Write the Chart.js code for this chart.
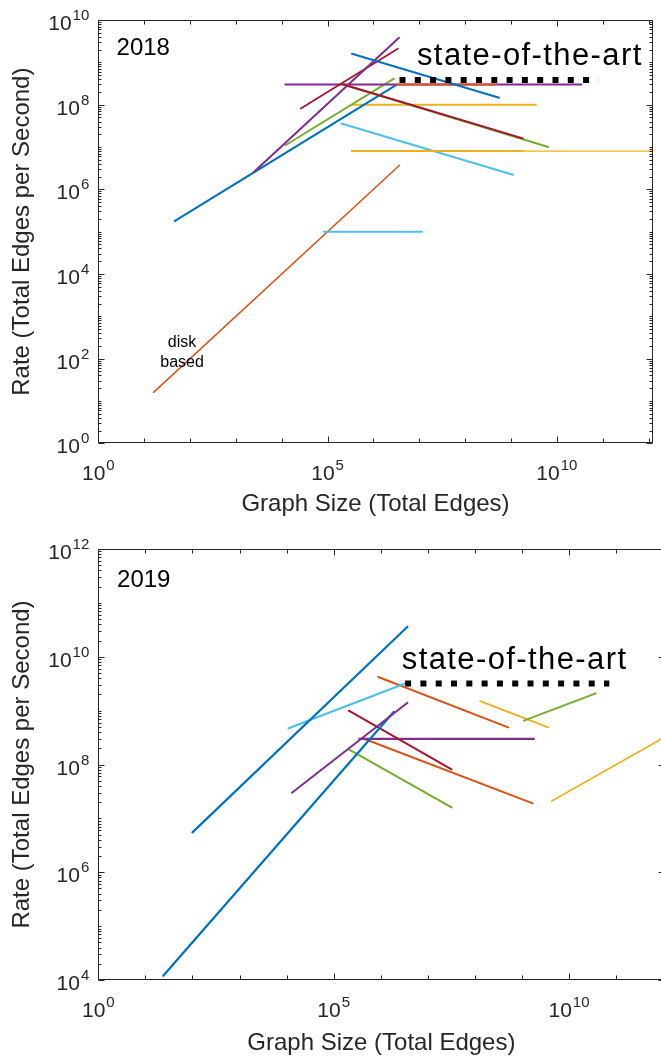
<!DOCTYPE html>
<html><head><meta charset="utf-8">
<script src="https://cdn.jsdelivr.net/npm/chart.js@4.4.1/dist/chart.umd.min.js"></script>
<style>
html,body{margin:0;padding:0;background:#fff;overflow:hidden;width:661px;height:1059px}
#w1{position:absolute;left:0;top:0;width:661px;height:520px}
#w2{position:absolute;left:0;top:520px;width:670px;height:539px}
canvas{display:block}
</style></head><body>
<div id="w1"><canvas id="c1" width="661" height="520"></canvas></div>
<div id="w2"><canvas id="c2" width="670" height="539"></canvas></div>
<script>
// ================= DATA =================
const xAxisTitle = 'Graph Size (Total Edges)';
const yAxisTitle = 'Rate (Total Edges per Second)';
const xTickExponents = [0, 5, 10];
const yTickExponents2018 = [0, 2, 4, 6, 8, 10];
const yTickExponents2019 = [4, 6, 8, 10, 12];
const frontierLabel = 'state-of-the-art';
const diskLabel = ['disk', 'based'];

// 2018 panel: each series is a segment [start, end]
const series2018 = ['frontier', 'redFall', 'greenFall', 'blueFall', 'purpleRise', 'redRise',
  'orangeFlat', 'purpleFlat', 'greenRise', 'blueRise', 'yellowHigh', 'yellowLowShort',
  'yellowLowLong', 'lightBlueFall', 'lightBlueFlat', 'diskOrange'];
const size2018 = [
  [3.7e6, 8.1e10], [2.2e5, 1.8e9], [2.2e5, 6.5e9], [3.4e5, 5.5e8], [2.5e3, 3.6e6], [2.6e4, 3.4e6],
  [3.1e6, 4.6e8], [1.2e4, 3.4e10], [1.2e4, 2.8e6], [47, 3.1e6], [3.4e5, 3.5e9], [3.4e5, 1.8e9],
  [3.4e5, 1.0e13], [2.0e5, 1.1e9], [8.3e4, 1.15e7], [16, 3.7e6]
];
const rate2018 = [
  [3.8e8, 3.8e8], [3.0e8, 1.6e7], [3.0e8, 1.0e7], [1.6e9, 1.45e8], [2.6e6, 3.8e9], [8.1e7, 2.1e9],
  [3.0e8, 3.0e8], [3.0e8, 3.0e8], [1.1e7, 4.1e8], [1.8e5, 2.9e8], [1.0e8, 1.0e8], [8.0e6, 8.0e6],
  [8.0e6, 8.0e6], [3.6e7, 2.2e6], [1.0e5, 1.0e5], [16, 3.7e6]
];

// 2019 panel
const series2019 = ['frontier', 'blueHigh', 'lightBlue', 'orangeHigh', 'greenRise', 'yellowFall',
  'purpleRise', 'blueLow', 'redFall', 'purpleFlat', 'orangeLow', 'greenFall', 'yellowRise'];
const size2019 = [
  [3.3e6, 7.2e10], [100, 3.7e6], [1.1e4, 3.3e6], [8.9e5, 5.1e8], [1.1e9, 3.7e10], [1.3e8, 3.6e9],
  [1.3e4, 3.7e6], [24, 1.9e6], [2.1e5, 3.2e7], [3.5e5, 1.8e9], [4.0e5, 1.7e9], [2.1e5, 3.2e7],
  [4.3e9, 1.0e12]
];
const rate2019 = [
  [3.2e9, 3.2e9], [5.5e6, 3.6e10], [4.7e8, 3.2e9], [4.2e9, 4.9e8], [6.5e8, 2.1e9], [1.5e9, 4.9e8],
  [3.0e7, 1.4e9], [1.2e4, 9.5e8], [1.0e9, 8.1e7], [3.0e8, 3.0e8], [3.1e8, 1.9e7], [1.9e8, 1.6e7],
  [2.1e7, 3.1e8]
];

// ================= STYLES =================
const C = {blue:'#0072BD', orange:'#D95319', yellow:'#EDB120', purple:'#7E2F8E',
  green:'#77AC30', lblue:'#4DBEEE', red:'#A2142F', black:'#000000'};
const colors2018 = [C.black, C.red, C.green, C.blue, C.purple, C.red, C.orange, C.purple, C.green,
  C.blue, C.yellow, C.yellow, 'rgba(237,177,32,0.75)', C.lblue, C.lblue, C.orange];
const widths2018 = [6, 2, 2, 2, 2, 1.7, 2, 2, 2, 2.2, 2, 2, 1.7, 2, 2, 1.5];
const colors2019 = [C.black, C.blue, C.lblue, C.orange, C.green, C.yellow, C.purple, C.blue, C.red,
  C.purple, C.orange, C.green, C.yellow];
const widths2019 = [6, 2.2, 2.2, 2, 1.9, 1.9, 2, 2.2, 1.9, 2.2, 2, 2, 1.6];

const FONT = '"Liberation Sans", Arial, Helvetica, sans-serif';
const AXIS = '#262626';

function buildDatasets(names, sizes, rates, colors, widths) {
  return names.map((name, i) => {
    const isFrontier = name === 'frontier';
    return {
      label: name,
      data: sizes[i].map((x, j) => ({x: x, y: rates[i][j]})),
      showLine: true,
      fill: false,
      borderColor: colors[i],
      backgroundColor: colors[i],
      borderWidth: widths[i],
      pointRadius: 0,
      pointHoverRadius: 0,
      borderCapStyle: isFrontier ? 'butt' : 'round',
      borderDash: isFrontier ? [6, 9.3] : [],
      tension: 0
    };
  });
}

function drawPower(ctx, exp, x, yBase, mode) {
  ctx.font = '21px ' + FONT;
  const bw = ctx.measureText('10').width;
  ctx.font = '15px ' + FONT;
  const ew = ctx.measureText(String(exp)).width;
  let left;
  if (mode === 'right') left = x - ew - 1 - bw;
  else left = x - (bw + 1 + ew) / 2;
  ctx.textAlign = 'left';
  ctx.textBaseline = 'alphabetic';
  ctx.font = '21px ' + FONT;
  ctx.fillText('10', left, yBase);
  ctx.font = '15px ' + FONT;
  ctx.fillText(String(exp), left + bw + 1, yBase - 10);
}

const matlabAxes = {
  id: 'matlabAxes',
  afterDraw(chart, args, opts) {
    const {ctx, chartArea: a, scales: {x, y}} = chart;
    ctx.save();
    ctx.strokeStyle = AXIS;
    ctx.lineWidth = 1;
    const L = Math.round(a.left) + 0.5, R = Math.round(a.right) - 0.5;
    const T = Math.round(a.top) + 0.5, B = Math.round(a.bottom) - 0.5;
    ctx.beginPath();
    for (let k = Math.ceil(Math.log10(x.min)); k <= Math.floor(Math.log10(x.max)); k++) {
      const px = Math.round(x.getPixelForValue(Math.pow(10, k))) + 0.5;
      const len = opts.xLabels.includes(k) ? 6 : 4;
      ctx.moveTo(px, B); ctx.lineTo(px, B - len);
      ctx.moveTo(px, T); ctx.lineTo(px, T + len);
    }
    for (let k = Math.floor(Math.log10(y.min)); k <= Math.ceil(Math.log10(y.max)); k++) {
      for (let m = 1; m <= 9; m++) {
        const v = m * Math.pow(10, k);
        if (v < y.min * 0.999 || v > y.max * 1.001) continue;
        const py = Math.round(y.getPixelForValue(v)) + 0.5;
        const len = (m === 1 && opts.yLabels.includes(k)) ? 6 : 3;
        ctx.moveTo(L, py); ctx.lineTo(L + len, py);
        ctx.moveTo(R, py); ctx.lineTo(R - len, py);
      }
    }
    ctx.stroke();
    ctx.strokeRect(L, T, R - L, B - T);

    ctx.fillStyle = AXIS;
    opts.xLabels.forEach(k => {
      const px = x.getPixelForValue(Math.pow(10, k));
      drawPower(ctx, k, px, a.bottom + 37, 'center');
    });
    opts.yLabels.forEach(k => {
      const py = y.getPixelForValue(Math.pow(10, k));
      drawPower(ctx, k, a.left - 9, py + 10, 'right');
    });

    ctx.fillStyle = '#000';
    ctx.textBaseline = 'alphabetic';
    (opts.notes || []).forEach(n => {
      ctx.font = n.size + 'px ' + FONT;
      ctx.textAlign = n.align || 'left';
      if ('letterSpacing' in ctx) ctx.letterSpacing = (n.spacing || 0) + 'px';
      const lines = Array.isArray(n.text) ? n.text : [n.text];
      const px = x.getPixelForValue(n.x), py = y.getPixelForValue(n.y);
      lines.forEach((t, i) => ctx.fillText(t, px, py + i * (n.lineGap || 0)));
      if ('letterSpacing' in ctx) ctx.letterSpacing = '0px';
    });
    ctx.restore();
  }
};

function makeChart(canvasId, datasets, cfg) {
  return new Chart(document.getElementById(canvasId), {
    type: 'scatter',
    data: {datasets},
    plugins: [matlabAxes],
    options: {
      responsive: false,
      animation: false,
      devicePixelRatio: 1,
      events: [],
      layout: {padding: {left: 0, top: cfg.padTop, right: cfg.padRight, bottom: 0}},
      plugins: {
        legend: {display: false},
        tooltip: {enabled: false},
        matlabAxes: {xLabels: xTickExponents, yLabels: cfg.yLabels, notes: cfg.notes}
      },
      scales: {
        x: {
          type: 'logarithmic', min: cfg.xMin, max: cfg.xMax,
          grid: {display: false}, border: {display: false},
          ticks: {display: false},
          title: {display: true, text: xAxisTitle, color: AXIS,
            font: {family: FONT, size: 24}, padding: {top: 0, bottom: 1}},
          afterFit(s) { s.height = cfg.xHeight; }
        },
        y: {
          type: 'logarithmic', min: cfg.yMin, max: cfg.yMax,
          grid: {display: false}, border: {display: false},
          ticks: {display: false},
          title: {display: true, text: yAxisTitle, color: AXIS,
            font: {family: FONT, size: 24}, padding: {top: 8, bottom: 0}},
          afterFit(s) { s.width = 98.3; }
        }
      }
    }
  });
}

makeChart('c1', buildDatasets(series2018, size2018, rate2018, colors2018, widths2018), {
  padTop: 20, padRight: 8.3, xHeight: 76.7,
  xMin: 1, xMax: 1.23e12, yMin: 1, yMax: 1e10,
  yLabels: yTickExponents2018,
  notes: [
    {text: frontierLabel, x: 8.9e6, y: 8.7e8, size: 31, spacing: 1.4},
    {text: '2018', x: 2.5, y: 1.5e9, size: 24},
    {text: diskLabel, x: 67, y: 190, size: 16, align: 'center', lineGap: 20}
  ]
});

makeChart('c2', buildDatasets(series2019, size2019, rate2019, colors2019, widths2019), {
  padTop: 29, padRight: 5.5, xHeight: 79,
  xMin: 1, xMax: 1.07e12, yMin: 1e4, yMax: 1e12,
  yLabels: yTickExponents2019,
  notes: [
    {text: frontierLabel, x: 2.8e6, y: 5.9e9, size: 31, spacing: 1.4},
    {text: '2019', x: 2.5, y: 2.0e11, size: 24}
  ]
});
</script>
</body></html>
